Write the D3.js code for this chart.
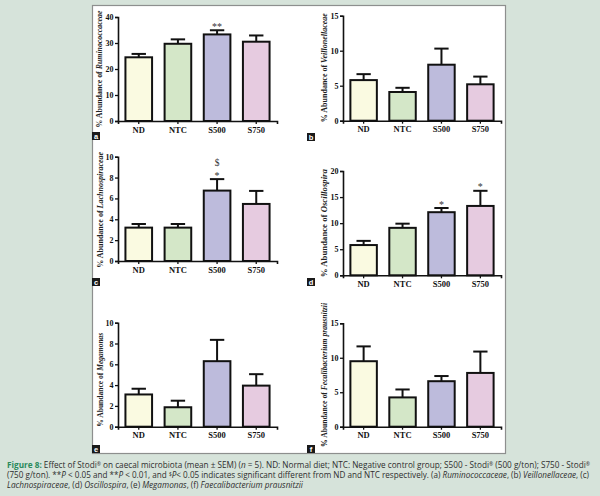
<!DOCTYPE html>
<html>
<head>
<meta charset="utf-8">
<script src="https://cdn.jsdelivr.net/npm/d3@7"></script>
<style>
  html, body { margin: 0; padding: 0; background: #d6e3da; }
  svg { display: block; }
</style>
</head>
<body>
<svg id="fig" width="600" height="496"></svg>
<script>
// groups shared by all panels
const groups = ["ND", "NTC", "S500", "S750"];

// (a) Ruminococcaceae
const ruminoMean = [24.5, 29.7, 33.3, 30.5];
const ruminoSem = [1.3, 1.7, 1.6, 2.4];
const ruminoMarks = [[], [], ["**"], []];
const ruminoTicks = [0, 10, 20, 30, 40];

// (b) Veillonellaceae
const veillMean = [5.8, 4.1, 8.0, 5.2];
const veillSem = [0.85, 0.6, 2.3, 1.1];
const veillMarks = [[], [], [], []];
const veillTicks = [0, 5, 10, 15];

// (c) Lachnospiraceae
const lachnoMean = [3.2, 3.2, 6.75, 5.47];
const lachnoSem = [0.35, 0.35, 1.1, 1.25];
const lachnoMarks = [[], [], ["*", "$"], []];
const lachnoTicks = [0, 2, 4, 6, 8, 10];

// (d) Oscillospira
const oscilloMean = [5.8, 9.1, 12.1, 13.3];
const oscilloSem = [0.8, 0.8, 0.8, 2.9];
const oscilloMarks = [[], [], ["*"], ["*"]];
const oscilloTicks = [0, 5, 10, 15, 20];

// (e) Megamonas
const megaMean = [3.1, 1.87, 6.3, 3.95];
const megaSem = [0.55, 0.63, 2.05, 1.1];
const megaMarks = [[], [], [], []];
const megaTicks = [0, 2, 4, 6, 8, 10];

// (f) Faecalibacterium prausnitzii
const faecalMean = [9.5, 4.25, 6.6, 7.8];
const faecalSem = [2.15, 1.15, 0.75, 3.1];
const faecalMarks = [[], [], [], []];
const faecalTicks = [0, 5, 10, 15];

const barColors = ["#fafae1", "#d4e7c8", "#bdbbdc", "#e6cbe0"];

const svg = d3.select("#fig");

// white figure frame
svg.append("rect")
  .attr("x", 92.5).attr("y", 5.5)
  .attr("width", 413).attr("height", 448)
  .attr("fill", "#fff")
  .attr("stroke", "#8d8f8e")
  .attr("stroke-width", 1.2);

function drawPanel(p) {
  const x = d3.scaleBand()
    .domain(groups)
    .range([p.left, p.right])
    .paddingInner(0.32)
    .paddingOuter(0.19);
  const y = d3.scaleLinear()
    .domain([0, d3.max(p.ticks)])
    .range([p.bottom, p.top]);

  const g = svg.append("g");

  const rows = groups.map((k, i) => ({
    key: k, mean: p.mean[i], sem: p.sem[i], marks: p.marks[i], color: barColors[i]
  }));

  // bars
  g.selectAll("rect.bar")
    .data(rows)
    .join("rect")
    .attr("class", "bar")
    .attr("x", d => x(d.key))
    .attr("y", d => y(d.mean))
    .attr("width", x.bandwidth())
    .attr("height", d => y(0) - y(d.mean))
    .attr("fill", d => d.color)
    .attr("stroke", "#111")
    .attr("stroke-width", 2);

  // error bars (upper only)
  const cap = x.bandwidth() * 0.27;
  g.selectAll("line.err")
    .data(rows)
    .join("line")
    .attr("class", "err")
    .attr("x1", d => x(d.key) + x.bandwidth() / 2)
    .attr("x2", d => x(d.key) + x.bandwidth() / 2)
    .attr("y1", d => y(d.mean))
    .attr("y2", d => y(d.mean + d.sem))
    .attr("stroke", "#111")
    .attr("stroke-width", 2);
  g.selectAll("line.cap")
    .data(rows)
    .join("line")
    .attr("class", "cap")
    .attr("x1", d => x(d.key) + x.bandwidth() / 2 - cap)
    .attr("x2", d => x(d.key) + x.bandwidth() / 2 + cap)
    .attr("y1", d => y(d.mean + d.sem))
    .attr("y2", d => y(d.mean + d.sem))
    .attr("stroke", "#111")
    .attr("stroke-width", 2);

  // significance marks, stacked upward from the error cap
  rows.forEach(d => {
    d.marks.forEach((m, j) => {
      g.append("text")
        .attr("x", x(d.key) + x.bandwidth() / 2)
        .attr("y", y(d.mean + d.sem) - (m === "$" ? 13 : 0.5) - (j > 0 && m !== "$" ? j * 11 : 0))
        .attr("text-anchor", "middle")
        .attr("font-family", "'Liberation Serif', serif")
        .attr("font-size", m === "$" ? 9.5 : 10)
        .attr("fill", "#333")
        .text(m);
    });
  });

  // axes
  const yAxis = g.append("g")
    .attr("transform", `translate(${p.left},0)`)
    .call(d3.axisLeft(y).tickValues(p.ticks).tickSize(3).tickPadding(1.5));
  const xAxis = g.append("g")
    .attr("transform", `translate(0,${p.bottom})`)
    .call(d3.axisBottom(x).tickSize(3).tickPadding(2.5));
  [yAxis, xAxis].forEach(a => {
    a.select(".domain").attr("stroke", "#111").attr("stroke-width", 1.6);
    a.selectAll(".tick line").attr("stroke", "#111").attr("stroke-width", 1.3);
    a.selectAll("text")
      .attr("font-family", "'Liberation Serif', serif")
      .attr("font-weight", "bold")
      .attr("fill", "#111");
  });
  yAxis.selectAll("text").attr("font-size", 8);
  xAxis.selectAll("text").attr("font-size", 8.5);

  // rotated y label
  const lab = g.append("text")
    .attr("transform", `translate(${p.labelX},${(p.top + p.bottom) / 2 + p.labelShift}) rotate(-90)`)
    .attr("text-anchor", "middle")
    .attr("font-family", "'Liberation Serif', serif")
    .attr("font-weight", "bold")
    .attr("font-size", 8.3)
    .attr("fill", "#222");
  if (p.labelLen) lab.attr("textLength", p.labelLen).attr("lengthAdjust", "spacingAndGlyphs");
  lab.append("tspan").text("% Abundance of ");
  lab.append("tspan").attr("font-style", "italic").text(p.taxon);

  // panel letter
  svg.append("rect")
    .attr("x", p.tagX).attr("y", p.tagY)
    .attr("width", 8).attr("height", 8)
    .attr("fill", "#1a1a1a");
  svg.append("text")
    .attr("x", p.tagX + 4).attr("y", p.tagY + 6.6)
    .attr("text-anchor", "middle")
    .attr("font-family", "'Liberation Sans', sans-serif")
    .attr("font-weight", "bold")
    .attr("font-size", 7.5)
    .attr("fill", "#fff")
    .text(p.tag);
}

drawPanel({ tag: "a", taxon: "Ruminococcaceae", mean: ruminoMean, sem: ruminoSem, marks: ruminoMarks, ticks: ruminoTicks,
  left: 118, right: 277, top: 17, bottom: 121, labelX: 102, labelShift: 0, labelLen: 117, tagX: 92, tagY: 132 });
drawPanel({ tag: "b", taxon: "Veillonellaceae", mean: veillMean, sem: veillSem, marks: veillMarks, ticks: veillTicks,
  left: 343, right: 501, top: 15.7, bottom: 120.7, labelX: 327, labelShift: -0.5, labelLen: 109, tagX: 307, tagY: 133 });
drawPanel({ tag: "c", taxon: "Lachnospiraceae", mean: lachnoMean, sem: lachnoSem, marks: lachnoMarks, ticks: lachnoTicks,
  left: 118, right: 277, top: 156.7, bottom: 261, labelX: 103, labelShift: 1, labelLen: 116, tagX: 92, tagY: 278 });
drawPanel({ tag: "d", taxon: "Oscillospira", mean: oscilloMean, sem: oscilloSem, marks: oscilloMarks, ticks: oscilloTicks,
  left: 343, right: 501, top: 171, bottom: 275.3, labelX: 327, labelShift: 0, labelLen: 108, tagX: 307, tagY: 278 });
drawPanel({ tag: "e", taxon: "Megamonas", mean: megaMean, sem: megaSem, marks: megaMarks, ticks: megaTicks,
  left: 118, right: 277, top: 322.7, bottom: 426.7, labelX: 103, labelShift: 5, labelLen: 94, tagX: 92, tagY: 445 });
drawPanel({ tag: "f", taxon: "Fecalibacterium prausnitzii", mean: faecalMean, sem: faecalSem, marks: faecalMarks, ticks: faecalTicks,
  left: 343, right: 501, top: 323.3, bottom: 426.7, labelX: 327, labelShift: 0, labelLen: 144, tagX: 307, tagY: 445 });

// caption
const cap = svg.append("g")
  .attr("font-family", "'Open Sans', sans-serif")
  .attr("font-size", 8.2)
  .attr("fill", "#2e2e2e");

const captionLines = [
  [["Figure 8:", "b"], [" Effect of Stodi", ""], ["®", "s"], [" on caecal microbiota (mean ± SEM) (", ""], ["n", "i"],
   [" = 5). ND: Normal diet; NTC: Negative control group; S500 - Stodi", ""], ["®", "s"], [" (500 g/ton); S750 - Stodi", ""], ["®", "s"]],
  [["(750 g/ton). **", ""], ["P", "i"], [" < 0.05 and **", ""], ["P", "i"], [" < 0.01, and ", ""], ["$", "s"], ["P", "i"],
   ["< 0.05 indicates significant different from ND and NTC respectively. (a) ", ""], ["Ruminococcaceae", "i"],
   [", (b) ", ""], ["Veillonellaceae", "i"], [", (c)", ""]],
  [["Lachnospiraceae", "i"], [", (d) ", ""], ["Oscillospira", "i"], [", (e) ", ""], ["Megamonas", "i"], [", (f) ", ""],
   ["Faecalibacterium prausnitzii", "i"]]
];
const lineY = [468, 478, 488];
const lineLen = [583, 582, null];

captionLines.forEach((parts, li) => {
  const t = cap.append("text").attr("x", 7).attr("y", lineY[li]);
  if (lineLen[li]) t.attr("textLength", lineLen[li]).attr("lengthAdjust", "spacingAndGlyphs");
  let raised = false;
  parts.forEach(([s, st]) => {
    const ts = t.append("tspan").text(s);
    if (st === "b") ts.attr("font-weight", "bold").attr("fill", "#2a8a5c");
    if (st === "i") ts.attr("font-style", "italic");
    if (st === "s") {
      ts.attr("font-size", 5).attr("dy", -2.5);
      raised = true;
    } else if (raised) {
      ts.attr("dy", 2.5);
      raised = false;
    }
  });
});
</script>
</body>
</html>
